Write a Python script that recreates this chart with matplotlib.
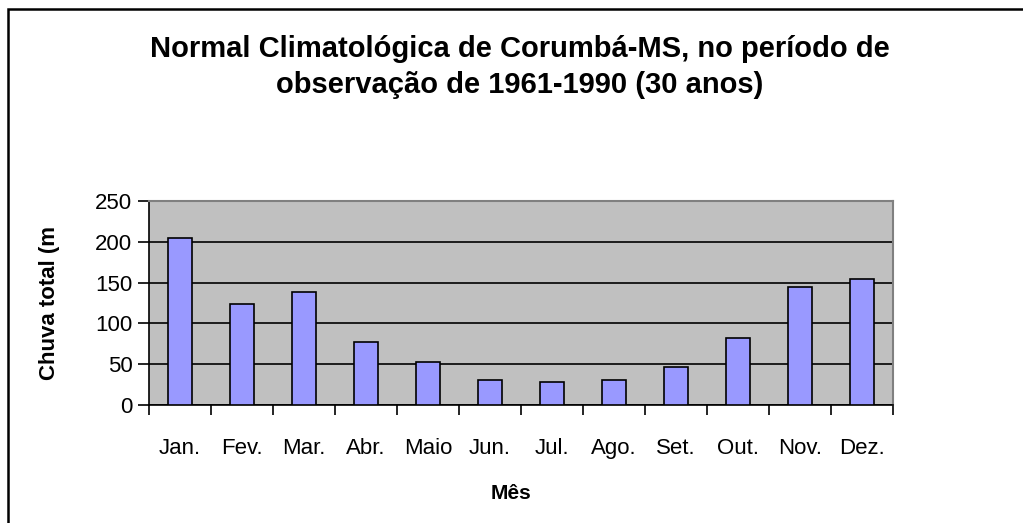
import matplotlib.pyplot as plt
from matplotlib.patches import Rectangle

# monthly rainfall (mm), Corumbá-MS 1961-1990
meses = ['Jan.', 'Fev.', 'Mar.', 'Abr.', 'Maio', 'Jun.',
         'Jul.', 'Ago.', 'Set.', 'Out.', 'Nov.', 'Dez.']
chuva = [205, 124, 139, 77, 53, 31, 28, 31, 46, 82, 144, 154]
y_ticks = [0, 50, 100, 150, 200, 250]

plt.rcParams['font.family'] = ['Liberation Sans', 'DejaVu Sans']

fig = plt.figure(figsize=(10.23, 5.23), dpi=100)
# chart frame, cut off on the right and bottom like the original screenshot
fig.patches.append(Rectangle((0.0083, -0.05), 1.05, 1.0328, transform=fig.transFigure,
                             fill=False, edgecolor='black', linewidth=1.8))

ax = fig.add_axes([0.1457, 0.2256, 0.7273, 0.3901])
ax.set_facecolor('#c0c0c0')

x = list(range(len(meses)))
ax.bar(x, chuva, width=0.38, color='#9999ff', edgecolor='black', linewidth=1.2, zorder=3)

ax.set_xlim(-0.5, len(meses) - 0.5)
ax.set_ylim(0, 250)
ax.set_yticks(y_ticks)
ax.set_yticklabels([str(v) for v in y_ticks], fontsize=16)
ax.yaxis.grid(True, color='black', linewidth=1.2, zorder=1)
ax.set_axisbelow(True)

# category labels centered, ticks on the boundaries
ax.set_xticks([i - 0.5 for i in range(len(meses) + 1)])
ax.set_xticklabels([''] * (len(meses) + 1))
ax.set_xticks(x, minor=True)
ax.set_xticklabels(meses, minor=True, fontsize=16)
ax.tick_params(axis='x', which='minor', length=0, pad=24)
ax.tick_params(axis='x', which='major', direction='out', length=7, width=1.2)
ax.tick_params(axis='y', direction='out', length=8, width=1.2, pad=4)

for s in ['left', 'bottom']:
    ax.spines[s].set_color('black')
    ax.spines[s].set_linewidth(1.2)
for s in ['top', 'right']:
    ax.spines[s].set_color('#808080')
    ax.spines[s].set_linewidth(1.5)

fig.text(0.508, 0.907, 'Normal Climatológica de Corumbá-MS, no período de',
         ha='center', va='center', fontsize=21, fontweight='bold')
fig.text(0.508, 0.838, 'observação de 1961-1990 (30 anos)',
         ha='center', va='center', fontsize=21, fontweight='bold')
fig.text(0.5, 0.057, 'Mês', ha='center', va='center', fontsize=15, fontweight='bold')
fig.text(0.048, 0.42, 'Chuva total (m', ha='center', va='center', rotation=90,
         fontsize=16, fontweight='bold')

fig.savefig('out.png', dpi=100)
